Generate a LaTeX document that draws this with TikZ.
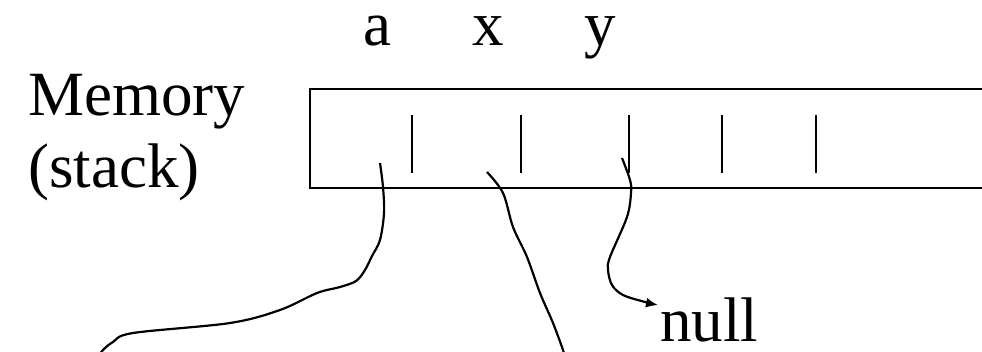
\documentclass[tikz,border=0pt]{standalone}
\usepackage{fontspec}
\setmainfont{Liberation Serif}
\usetikzlibrary{arrows.meta}
\begin{document}
\begin{tikzpicture}[x=1pt,y=-1pt,
  lbl/.style={inner sep=0pt,font=\fontsize{63}{72}\selectfont},
  boxline/.style={line width=2.8pt},
  divider/.style={line width=2.8pt},
  pointer/.style={line width=2.2pt},
]
\useasboundingbox (0,0) rectangle (982,351);
% labels
\node[lbl,anchor=base west] (mem) at (28,115) {Memory};
\node[lbl,anchor=base west] (stk) at (28,187) {(stack)};
\node[lbl,anchor=base] (la) at (377,45) {a};
\node[lbl,anchor=base] (lx) at (488,45) {x};
\node[lbl,anchor=base] (ly) at (600,45) {y};
\node[lbl,anchor=base west] (null) at (660,341) {null};
% memory strip
\draw[boxline] (982,89) -- (310,89) -- (310,188) -- (982,188);
\foreach \i/\xx in {1/412,2/521,3/629,4/722,5/816}
  \draw[divider] (\xx,115) -- (\xx,173) coordinate (d\i);
% pointer anchors
\coordinate (ca) at (380,163);
\coordinate (cx) at (487,172);
\coordinate (cy) at (622,158);
\coordinate (aend) at (97,358);
\coordinate (xend) at (566,360);
\coordinate (ytip) at (658,305);
% pointers
\draw[pointer] plot[smooth,tension=0.55] coordinates {(ca) (383,187) (384,213) (380,240) (372,256) (365,270) (356,281) (340,287) (317,293) (280,310) (230,323) (133,333) (113,342) (103,350) (aend)};
\draw[pointer] plot[smooth,tension=0.55] coordinates {(cx) (503,193) (513,227) (527,257) (540,293) (553,323) (563,350) (xend)};
\draw[pointer,-{Latex[length=12pt,width=10pt]}] plot[smooth,tension=0.55] coordinates {(cy) (630,180) (631,193) (627,217) (610,257) (608,270) (612,285) (623,295) (645,302) (ytip)};
\end{tikzpicture}
\end{document}
